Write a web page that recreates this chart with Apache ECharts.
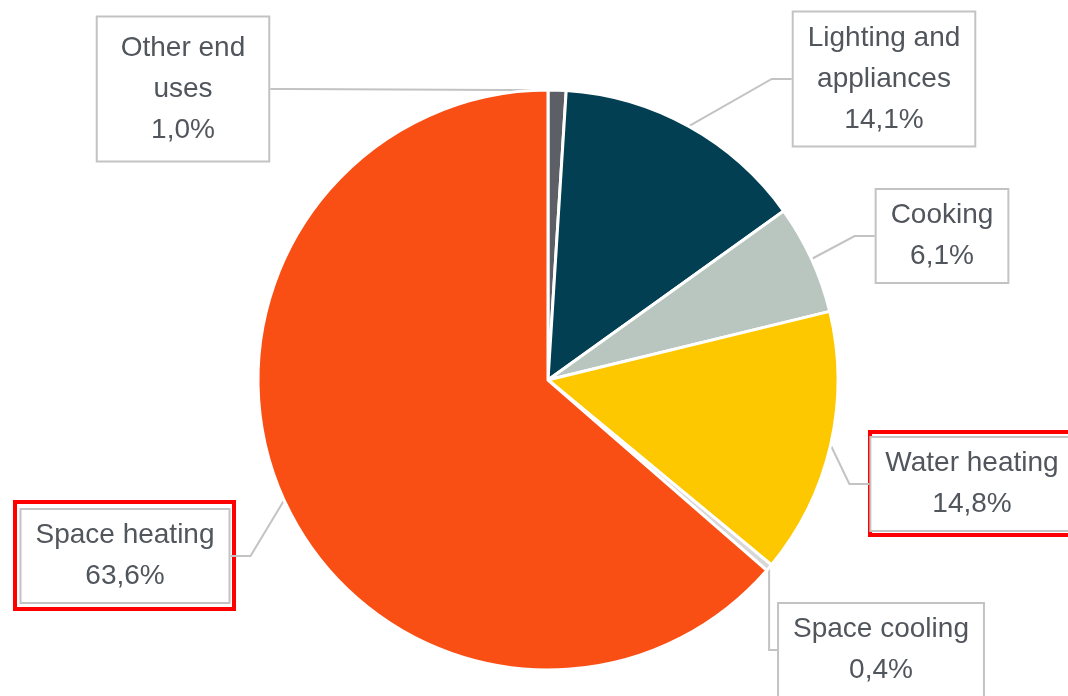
<!DOCTYPE html>
<html>
<head>
<meta charset="utf-8">
<script src="https://cdn.jsdelivr.net/npm/echarts@6/dist/echarts.min.js"></script>
<style>
  html, body { margin: 0; padding: 0; background: #fff; }
  #pie { width: 1068px; height: 696px; }
</style>
</head>
<body>
<div id="pie"></div>
<script>
// end-use shares, clockwise from 12 o'clock
let categories = ['Other end\nuses', 'Lighting and\nappliances', 'Cooking', 'Water heating', 'Space cooling', 'Space heating'];
let shares = [1.0, 14.1, 6.1, 14.8, 0.4, 63.6];
let colors = ['#5c6066', '#023f52', '#b8c6bf', '#fdc800', '#d8d8d8', '#fa4f14'];

// where each label box sits (centre)
let labelPos = [[183, 89], [884, 79], [942, 236], [972, 484], [881, 650], [125, 556]];

let pie = echarts.init(document.getElementById('pie'));

let option = {
  animation: false,
  graphic: [
    { type: 'rect', shape: { x: 15, y: 502, width: 219, height: 107 }, style: { fill: 'none', stroke: '#ff0000', lineWidth: 4 } },
    { type: 'rect', shape: { x: 870, y: 432, width: 210, height: 103 }, style: { fill: 'none', stroke: '#ff0000', lineWidth: 4 } }
  ],
  series: [{
    type: 'pie',
    center: [548, 380],
    radius: [0, 290],
    startAngle: 90,
    clockwise: true,
    avoidLabelOverlap: false,
    itemStyle: {
      borderColor: '#fff',
      borderWidth: 3
    },
    label: {
      show: true,
      position: 'outside',
      formatter: function (p) {
        return p.name + '\n' + p.value.toFixed(1).replace('.', ',') + '%';
      },
      fontFamily: 'Liberation Sans Narrow, Arial Narrow, sans-serif',
      fontSize: 28,
      lineHeight: 41,
      color: '#51565d',
      align: 'center',
      backgroundColor: '#fff',
      borderColor: '#c3c3c3',
      borderWidth: 2,
      padding: [6, 14, 4, 14]
    },
    labelLine: {
      show: true,
      length: 20,
      length2: 20,
      lineStyle: { color: '#c3c3c3', width: 2 }
    },
    labelLayout: function (params) {
      let pos = labelPos[params.dataIndex];
      return {
        x: pos[0],
        y: pos[1],
        align: 'center',
        verticalAlign: 'middle'
      };
    },
    data: categories.map(function (name, i) {
      let item = { name: name, value: shares[i], itemStyle: { color: colors[i] } };
      if (i === 0) item.label = { padding: [12, 23, 8, 23] };
      return item;
    })
  }]
};

pie.setOption(option);
</script>
</body>
</html>
